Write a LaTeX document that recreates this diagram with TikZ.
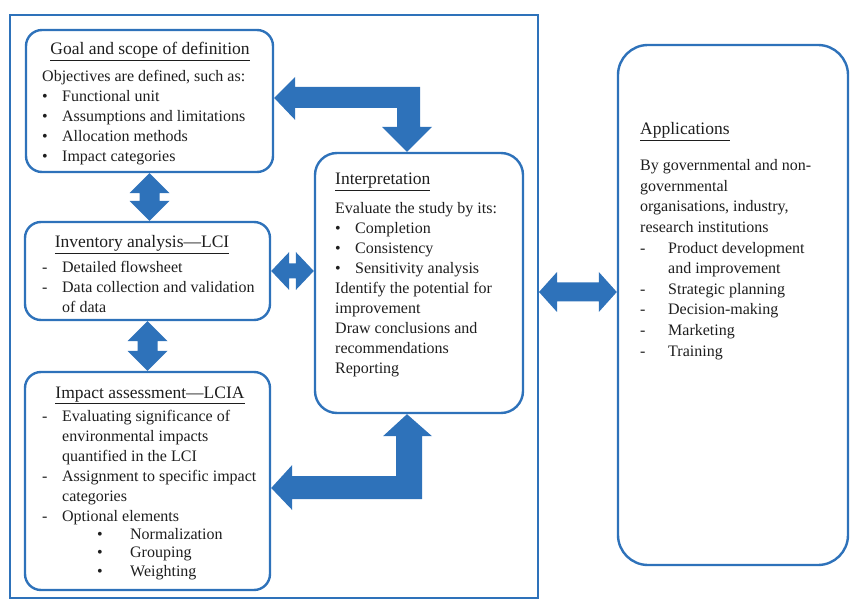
\documentclass[tikz,border=0pt]{standalone}
\usepackage{fontspec}
\setmainfont{Liberation Serif}
\usetikzlibrary{calc}
\definecolor{lcablue}{RGB}{46,114,186}
\definecolor{lcatext}{RGB}{30,30,30}
\newcommand\bl[1]{\makebox[20pt][l]{\textbullet}#1}
\newcommand\dl[1]{\makebox[20pt][l]{-}#1}
\newcommand\al[1]{\makebox[28pt][l]{-}#1}
\newcommand\sbl[1]{\makebox[33pt][l]{\textbullet}#1}
\newcommand\vdbl[2]{\fill[arr] (#1) -- ++(20,20) -- ++(-10,0) -- ($(#2)+(10,-20)$) -- ++(10,0) -- (#2) -- ++(-20,-20) -- ++(10,0) -- ($(#1)+(-10,20)$) -- ++(-10,0) -- cycle;}
\newcommand\hdbl[4]{\fill[arr] (#1) -- ++(18,-#3) -- ++(0,#3-#4) -- ($(#2)+(-18,-#4)$) -- ++(0,#4-#3) -- (#2) -- ++(-18,#3) -- ++(0,#4-#3) -- ($(#1)+(18,#4)$) -- ++(0,#3-#4) -- cycle;}
\begin{document}
\begin{tikzpicture}[x=1pt,y=-1pt,
  box/.style={draw=lcablue,line width=2.4pt,rounded corners=16pt,inner sep=0pt},
  frame/.style={draw=lcablue,line width=2pt,inner sep=0pt},
  arr/.style={fill=lcablue},
  txt/.style={anchor=north west,inner sep=0pt,align=left,text=lcatext,font=\fontsize{16}{20}\selectfont},
  ttl/.style={anchor=base,inner sep=0pt,text=lcatext,font=\fontsize{17.5}{20}\selectfont}]
\useasboundingbox (0,0) rectangle (851,601);
\node[frame,minimum width=528pt,minimum height=583pt] (frame) at (274,306.5) {};
\node[box,minimum width=247pt,minimum height=142pt] (goal) at (149.5,101) {};
\node[box,minimum width=245pt,minimum height=98pt] (inv) at (147.5,271) {};
\node[box,minimum width=245pt,minimum height=218pt] (impact) at (147.5,481) {};
\node[box,rounded corners=22pt,minimum width=208pt,minimum height=260pt] (interp) at (419,283) {};
\node[box,rounded corners=30pt,minimum width=230pt,minimum height=520pt] (apps) at (733,305) {};
\node[ttl] (goalttl) at (150,55) {\underline{Goal and scope of definition}};
\node[txt] (goaltxt) at (42,67) {\strut Objectives are defined, such as:\\
  \bl{Functional unit}\\ \bl{Assumptions and limitations}\\ \bl{Allocation methods}\\ \bl{Impact categories}};
\node[ttl] (invttl) at (142,248) {\underline{Inventory analysis—LCI}};
\node[txt] (invtxt) at (42,258) {\strut\dl{Detailed flowsheet}\\ \dl{Data collection and validation}\\ \hspace*{20pt}of data};
\node[ttl] (impactttl) at (150,398) {\underline{Impact assessment—LCIA}};
\node[txt] (impacttxt) at (42,407) {\strut\dl{Evaluating significance of}\\ \hspace*{20pt}environmental impacts\\
  \hspace*{20pt}quantified in the LCI\\ \dl{Assignment to specific impact}\\ \hspace*{20pt}categories\\ \dl{Optional elements}};
\node[txt,font=\fontsize{16}{18.5}\selectfont] (impactsub) at (97,526) {\strut\sbl{Normalization}\\ \sbl{Grouping}\\ \sbl{Weighting}};
\node[ttl,anchor=base west] (interpttl) at (335,185) {\underline{Interpretation}};
\node[txt] (interptxt) at (335,199) {\strut Evaluate the study by its:\\ \bl{Completion}\\ \bl{Consistency}\\ \bl{Sensitivity analysis}\\
  Identify the potential for\\ improvement\\ Draw conclusions and\\ recommendations\\ Reporting};
\node[ttl,anchor=base west] (appsttl) at (640,135) {\underline{Applications}};
\node[txt,font=\fontsize{16}{20.6}\selectfont] (appstxt) at (640,156) {\strut By governmental and non-\\ governmental\\ organisations, industry,\\ research institutions\\
  \al{Product development}\\ \hspace*{28pt}and improvement\\ \al{Strategic planning}\\ \al{Decision-making}\\ \al{Marketing}\\ \al{Training}};
\coordinate (g1) at ($(goal.east)+(0,-3)$);
\coordinate (i1) at ($(interp.north)+(-12,0)$);
\coordinate (m1) at ($(impact.east)+(0,7)$);
\coordinate (i2) at ($(interp.south)+(-12,0)$);
\coordinate (f1) at ($(frame.east)+(0,-14.5)$);
\fill[arr] (g1) -- ++(21,-21) -- ++(0,10) -- ($(g1 -| i1)+(13,-11)$) -- ($(i1)+(13,-25)$) -- ($(i1)+(25,-25)$) -- (i1)
  -- ($(i1)+(-25,-25)$) -- ($(i1)+(-10,-25)$) -- ($(g1 -| i1)+(-10,10)$) -- ($(g1)+(21,10)$) -- ++(0,12) -- cycle;
\fill[arr] (m1) -- ++(21,-23) -- ++(0,11) -- ($(m1 -| i2)+(-11,-12)$) -- ($(i2)+(-11,22)$) -- ($(i2)+(-24,22)$) -- (i2)
  -- ($(i2)+(25,22)$) -- ($(i2)+(15,22)$) -- ($(m1 -| i2)+(15,11)$) -- ($(m1)+(21,11)$) -- ++(0,11) -- cycle;
\vdbl{goal.south}{goal.south |- inv.north}
\vdbl{inv.south}{inv.south |- impact.north}
\hdbl{inv.east}{interp.west |- inv.east}{19}{7.5}
\hdbl{f1}{apps.west |- f1}{20}{9.5}
\end{tikzpicture}
\end{document}
